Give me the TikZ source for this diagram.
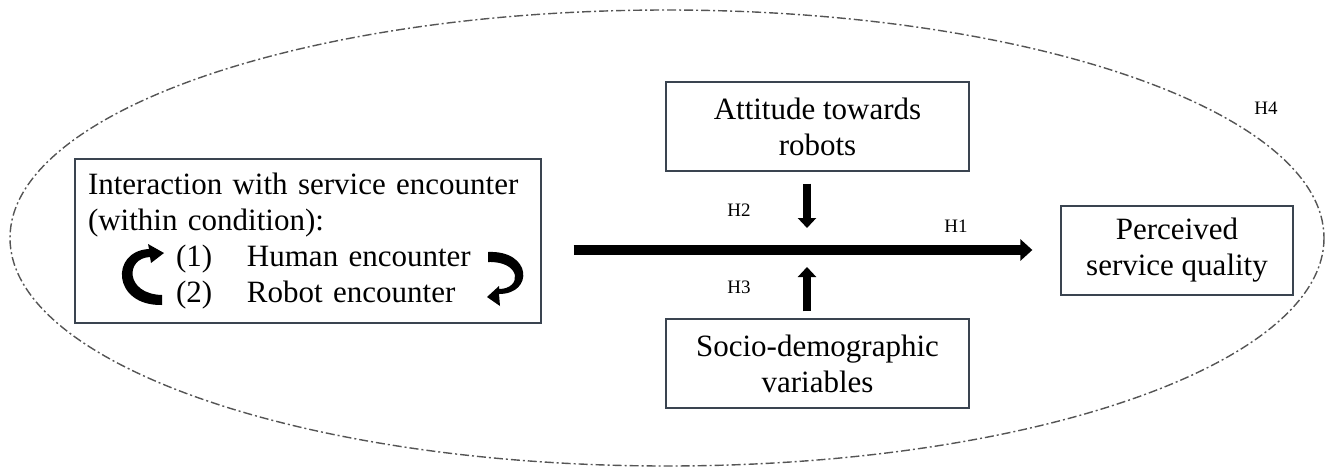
\documentclass[tikz,border=0pt]{standalone}
\usepackage{fontspec}
\setmainfont{Liberation Serif}
\usetikzlibrary{arrows.meta}

\definecolor{boxline}{RGB}{58,68,80}
\definecolor{ovalline}{RGB}{85,85,85}

\tikzset{
  frame/.style={draw=boxline, line width=1.3pt, inner sep=0pt, align=center,
                font=\fontsize{31}{36}\selectfont},
  hlabel/.style={inner sep=0pt, font=\fontsize{19}{22}\selectfont},
  mainarrow/.style={line width=9.5pt, -{Triangle[length=12pt,width=21pt]}},
  modarrow/.style={line width=8pt, -{Triangle[length=10pt,width=18pt]}},
  turnshape/.style={fill=black, draw=none},
  oval/.style={draw=ovalline, line width=1.4pt,
               dash pattern=on 9pt off 3pt on 2pt off 3pt}
}

\begin{document}
\begin{tikzpicture}[x=1pt,y=-1pt]
  \useasboundingbox (0,0) rectangle (1328,472);

  % enclosing moderation oval (H4)
  \draw[oval] (667,238) ellipse [x radius=657, y radius=228];

  % boxes
  \node[frame, minimum width=466pt, minimum height=164pt, text width=440pt,
        align=left] (enc) at (308,241)
    {Interaction with service encounter\\
     (within condition):\\
     \hspace*{88pt}\makebox[71pt][l]{(1)}Human encounter\\
     \hspace*{88pt}\makebox[71pt][l]{(2)}Robot encounter};
  \node[frame, minimum width=303pt, minimum height=89pt] (att) at (817.5,126.5)
    {Attitude towards\\robots};
  \node[frame, minimum width=303pt, minimum height=89pt] (soc) at (817.5,363.5)
    {Socio-demographic\\variables};
  \node[frame, minimum width=232pt, minimum height=89pt] (psq) at (1177,250.5)
    {Perceived\\service quality};

  % point where the moderators meet the main path
  \coordinate (mid) at (807,250);

  % main effect
  \draw[mainarrow, shorten <=32pt, shorten >=28pt]
    (enc.east |- mid) -- (psq.west |- mid);
  % moderators
  \draw[modarrow, shorten <=12pt, shorten >=22pt] (att.south -| mid) -- (mid);
  \draw[modarrow, shorten <=7pt, shorten >=17pt] (soc.north -| mid) -- (mid);

  % tapered curved arrows showing the alternating order of the encounters
  \fill[turnshape] (162,305) .. controls (112,306) and (110,251) .. (149,249)
    -- (148,244) -- (164,253) -- (151,263) -- (150,257)
    .. controls (125,258) and (125,294) .. (162,295) -- cycle;
  \fill[turnshape] (488,252) .. controls (532,250) and (534,294) .. (499,294)
    -- (500,306) -- (487,297) -- (499,286) -- (499,289)
    .. controls (522,289) and (522,261) .. (488,262) -- cycle;

  % hypothesis labels
  \node[hlabel] (h1) at (956,226) {H1};
  \node[hlabel] (h2) at (739,210) {H2};
  \node[hlabel] (h3) at (739,287) {H3};
  \node[hlabel] (h4) at (1266,108) {H4};
\end{tikzpicture}
\end{document}
